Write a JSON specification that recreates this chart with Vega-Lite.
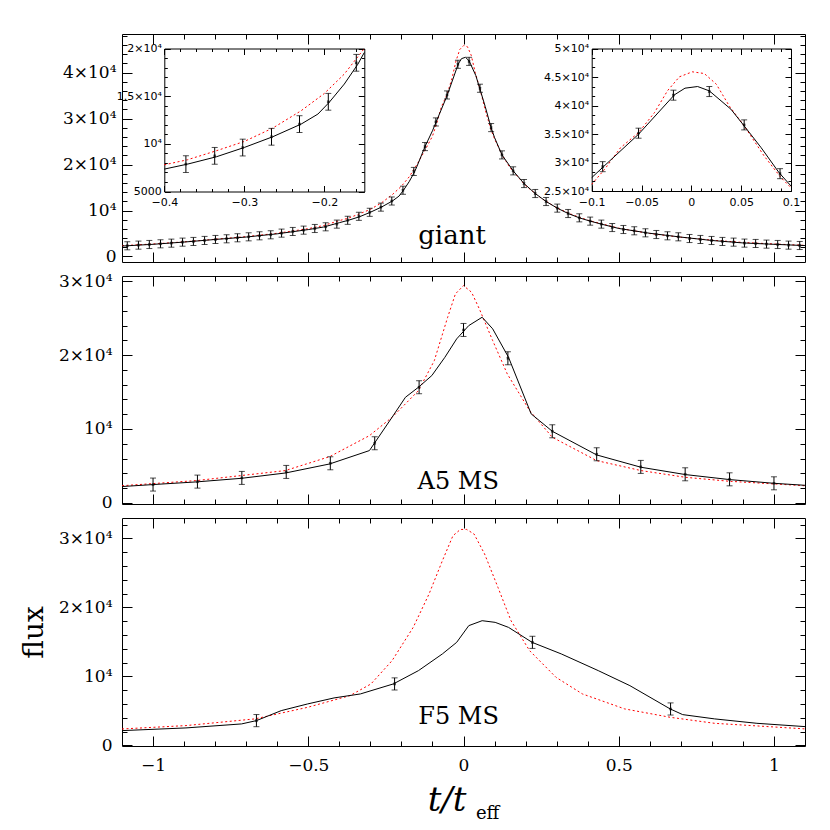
{
"$schema": "https://vega.github.io/schema/vega-lite/v6.json",
"background": "white",
"padding": {"left": 19, "top": 33, "right": 10, "bottom": 4},
"spacing": 14,
"bounds": "flush",
"datasets": {
"gpts": [
{"x":-1.083,"y":2330,"lo":1450,"hi":3210},{"x":-1.047,"y":2470,"lo":1590,"hi":3350},{"x":-1.012,"y":2610,"lo":1730,"hi":3490},{"x":-0.976,"y":2760,"lo":1880,"hi":3640},{"x":-0.941,"y":2900,"lo":2020,"hi":3780},{"x":-0.905,"y":3120,"lo":2240,"hi":4000},{"x":-0.870,"y":3270,"lo":2390,"hi":4150},{"x":-0.834,"y":3490,"lo":2610,"hi":4370},{"x":-0.799,"y":3700,"lo":2820,"hi":4580},{"x":-0.763,"y":3850,"lo":2970,"hi":4730},{"x":-0.728,"y":4070,"lo":3190,"hi":4950},{"x":-0.692,"y":4280,"lo":3400,"hi":5160},{"x":-0.657,"y":4500,"lo":3620,"hi":5380},{"x":-0.621,"y":4720,"lo":3840,"hi":5600},{"x":-0.586,"y":5080,"lo":4200,"hi":5960},{"x":-0.550,"y":5440,"lo":4560,"hi":6320},{"x":-0.515,"y":5730,"lo":4850,"hi":6610},{"x":-0.479,"y":6090,"lo":5210,"hi":6970},{"x":-0.444,"y":6460,"lo":5580,"hi":7340},{"x":-0.408,"y":7040,"lo":6160,"hi":7920},{"x":-0.373,"y":7870,"lo":6990,"hi":8750},{"x":-0.337,"y":8740,"lo":7860,"hi":9620},{"x":-0.302,"y":9610,"lo":8730,"hi":10490},{"x":-0.266,"y":10740,"lo":9860,"hi":11620},{"x":-0.231,"y":12070,"lo":11190,"hi":12950},{"x":-0.195,"y":14410,"lo":13530,"hi":15290},{"x":-0.160,"y":18500,"lo":17620,"hi":19380},{"x":-0.124,"y":23910,"lo":23030,"hi":24790},{"x":-0.089,"y":29270,"lo":28390,"hi":30150},{"x":-0.053,"y":35140,"lo":34260,"hi":36020},{"x":-0.018,"y":41810,"lo":40930,"hi":42690},
{"x":0.018,"y":42450,"lo":41570,"hi":43330},{"x":0.053,"y":36600,"lo":35720,"hi":37480},{"x":0.089,"y":28040,"lo":27160,"hi":28920},{"x":0.124,"y":22100,"lo":21220,"hi":22980},{"x":0.160,"y":18630,"lo":17750,"hi":19510},{"x":0.195,"y":15870,"lo":14990,"hi":16750},{"x":0.231,"y":13700,"lo":12820,"hi":14580},{"x":0.266,"y":11960,"lo":11080,"hi":12840},{"x":0.302,"y":10520,"lo":9640,"hi":11400},{"x":0.337,"y":9350,"lo":8470,"hi":10230},{"x":0.373,"y":8410,"lo":7530,"hi":9290},{"x":0.408,"y":7690,"lo":6810,"hi":8570},{"x":0.444,"y":7040,"lo":6160,"hi":7920},{"x":0.479,"y":6300,"lo":5420,"hi":7180},{"x":0.515,"y":5870,"lo":4990,"hi":6750},{"x":0.550,"y":5590,"lo":4710,"hi":6470},{"x":0.586,"y":5150,"lo":4270,"hi":6030},{"x":0.621,"y":4780,"lo":3900,"hi":5660},{"x":0.657,"y":4500,"lo":3620,"hi":5380},{"x":0.692,"y":4280,"lo":3400,"hi":5160},{"x":0.728,"y":3910,"lo":3030,"hi":4790},{"x":0.763,"y":3700,"lo":2820,"hi":4580},{"x":0.799,"y":3480,"lo":2600,"hi":4360},{"x":0.834,"y":3270,"lo":2390,"hi":4150},{"x":0.870,"y":3120,"lo":2240,"hi":4000},{"x":0.905,"y":2910,"lo":2030,"hi":3790},{"x":0.941,"y":2830,"lo":1950,"hi":3710},{"x":0.976,"y":2690,"lo":1810,"hi":3570},{"x":1.012,"y":2610,"lo":1730,"hi":3490},{"x":1.047,"y":2470,"lo":1590,"hi":3350},{"x":1.083,"y":2390,"lo":1510,"hi":3270}
],
"gblack": [
{"x":-1.1,"y":2270},{"x":-1.0,"y":2650},{"x":-0.9,"y":3140},{"x":-0.8,"y":3700},{"x":-0.7,"y":4230},{"x":-0.6,"y":4930},{"x":-0.5,"y":5850},{"x":-0.45,"y":6420},{"x":-0.4,"y":7350},{"x":-0.371,"y":7870},{"x":-0.335,"y":8640},{"x":-0.3,"y":9620},{"x":-0.2645,"y":10740},{"x":-0.229,"y":12070},{"x":-0.208,"y":13120},{"x":-0.194,"y":14340},{"x":-0.175,"y":16270},{"x":-0.158,"y":18360},{"x":-0.15,"y":19580},{"x":-0.124,"y":23910},{"x":-0.1,"y":27340},{"x":-0.088,"y":29300},{"x":-0.053,"y":34960},{"x":-0.017,"y":41870},{"x":-0.0064,"y":43040},{"x":0.0063,"y":43330},{"x":0.018,"y":42570},{"x":0.0397,"y":39350},{"x":0.053,"y":36420},{"x":0.07,"y":32610},{"x":0.088,"y":28220},{"x":0.1,"y":25880},{"x":0.124,"y":22100},{"x":0.16,"y":18630},{"x":0.195,"y":15870},{"x":0.231,"y":13700},{"x":0.266,"y":11960},{"x":0.302,"y":10520},{"x":0.337,"y":9350},{"x":0.373,"y":8410},{"x":0.408,"y":7690},{"x":0.444,"y":7040},{"x":0.5,"y":6100},{"x":0.6,"y":5050},{"x":0.7,"y":4220},{"x":0.8,"y":3480},{"x":0.9,"y":2950},{"x":1.0,"y":2650},{"x":1.1,"y":2370}
],
"gred": [
{"x":-1.1,"y":2350},{"x":-1.0,"y":2720},{"x":-0.9,"y":3180},{"x":-0.8,"y":3750},{"x":-0.7,"y":4320},{"x":-0.6,"y":5050},{"x":-0.5,"y":6050},{"x":-0.45,"y":6750},{"x":-0.4,"y":7800},{"x":-0.371,"y":8330},{"x":-0.335,"y":9270},{"x":-0.3,"y":10250},{"x":-0.2645,"y":11650},{"x":-0.229,"y":13470},{"x":-0.2,"y":15280},{"x":-0.175,"y":17320},{"x":-0.15,"y":20000},{"x":-0.125,"y":23000},{"x":-0.1,"y":26170},{"x":-0.087,"y":28810},{"x":-0.071,"y":32610},{"x":-0.053,"y":35240},{"x":-0.037,"y":38760},{"x":-0.024,"y":42570},{"x":-0.012,"y":45030},{"x":0.001,"y":45910},{"x":0.013,"y":45610},{"x":0.025,"y":43750},{"x":0.038,"y":39930},{"x":0.053,"y":36420},{"x":0.073,"y":31150},{"x":0.09,"y":27340},{"x":0.1,"y":25580},{"x":0.125,"y":22000},{"x":0.15,"y":19300},{"x":0.2,"y":15400},{"x":0.25,"y":12700},{"x":0.3,"y":10600},{"x":0.35,"y":9100},{"x":0.4,"y":7900},{"x":0.5,"y":6150},{"x":0.6,"y":5000},{"x":0.7,"y":4200},{"x":0.8,"y":3550},{"x":0.9,"y":3050},{"x":1.0,"y":2720},{"x":1.1,"y":2420}
],
"apts": [
{"x":-1.0,"y":2480,"lo":1600,"hi":3360},{"x":-0.857,"y":2880,"lo":2000,"hi":3760},{"x":-0.714,"y":3380,"lo":2500,"hi":4260},{"x":-0.571,"y":4190,"lo":3310,"hi":5070},{"x":-0.429,"y":5360,"lo":4480,"hi":6240},{"x":-0.286,"y":8070,"lo":7190,"hi":8950},{"x":-0.143,"y":15650,"lo":14770,"hi":16530},{"x":0.0,"y":23400,"lo":22520,"hi":24280},{"x":0.143,"y":19570,"lo":18690,"hi":20450},{"x":0.286,"y":9690,"lo":8810,"hi":10570},{"x":0.429,"y":6580,"lo":5700,"hi":7460},{"x":0.571,"y":4870,"lo":3990,"hi":5750},{"x":0.714,"y":3870,"lo":2990,"hi":4750},{"x":0.857,"y":3190,"lo":2310,"hi":4070},{"x":1.0,"y":2650,"lo":1770,"hi":3530}
],
"ablack": [
{"x":-1.1,"y":2210},{"x":-1.0,"y":2480},{"x":-0.86,"y":2840},{"x":-0.714,"y":3330},{"x":-0.573,"y":4050},{"x":-0.431,"y":5270},{"x":-0.303,"y":7080},{"x":-0.23,"y":11590},{"x":-0.187,"y":14290},{"x":-0.145,"y":15650},{"x":-0.102,"y":17230},{"x":-0.06,"y":19700},{"x":-0.022,"y":22190},{"x":0.017,"y":23990},{"x":0.06,"y":25120},{"x":0.094,"y":23550},{"x":0.145,"y":19700},{"x":0.218,"y":12040},{"x":0.286,"y":9690},{"x":0.429,"y":6490},{"x":0.572,"y":4820},{"x":0.715,"y":3830},{"x":0.858,"y":3150},{"x":1.0,"y":2650},{"x":1.1,"y":2380}
],
"ared": [
{"x":-1.1,"y":2320},{"x":-0.86,"y":3020},{"x":-0.574,"y":4370},{"x":-0.431,"y":6260},{"x":-0.303,"y":9100},{"x":-0.23,"y":11590},{"x":-0.187,"y":13400},{"x":-0.145,"y":15200},{"x":-0.094,"y":19250},{"x":-0.051,"y":25120},{"x":-0.026,"y":28280},{"x":0.0,"y":29400},{"x":0.026,"y":28500},{"x":0.051,"y":26250},{"x":0.094,"y":21960},{"x":0.141,"y":17450},{"x":0.213,"y":12490},{"x":0.286,"y":8880},{"x":0.429,"y":5720},{"x":0.572,"y":4370},{"x":0.715,"y":3460},{"x":0.858,"y":2920},{"x":1.1,"y":2320}
],
"fpts": [
{"x":-0.667,"y":3580,"lo":2700,"hi":4460},{"x":-0.222,"y":8900,"lo":8020,"hi":9780},{"x":0.222,"y":14930,"lo":14050,"hi":15810},{"x":0.667,"y":5270,"lo":4390,"hi":6150}
],
"fblack": [
{"x":-1.1,"y":2130},{"x":-0.894,"y":2520},{"x":-0.715,"y":3100},{"x":-0.667,"y":3580},{"x":-0.587,"y":5030},{"x":-0.502,"y":6000},{"x":-0.417,"y":6870},{"x":-0.332,"y":7450},{"x":-0.226,"y":8900},{"x":-0.145,"y":10830},{"x":-0.068,"y":13250},{"x":-0.022,"y":14930},{"x":0.017,"y":17350},{"x":0.06,"y":18070},{"x":0.102,"y":17830},{"x":0.145,"y":17100},{"x":0.221,"y":14930},{"x":0.315,"y":13250},{"x":0.434,"y":10830},{"x":0.536,"y":8650},{"x":0.666,"y":5270},{"x":0.706,"y":4450},{"x":0.809,"y":3830},{"x":0.945,"y":3190},{"x":1.1,"y":2710}
],
"fred": [
{"x":-1.1,"y":2370},{"x":-0.894,"y":2860},{"x":-0.672,"y":3830},{"x":-0.502,"y":5510},{"x":-0.366,"y":7200},{"x":-0.298,"y":8900},{"x":-0.23,"y":12280},{"x":-0.162,"y":17100},{"x":-0.111,"y":21940},{"x":-0.068,"y":26770},{"x":-0.034,"y":30390},{"x":-0.01,"y":31300},{"x":0.01,"y":31300},{"x":0.034,"y":30640},{"x":0.068,"y":27740},{"x":0.111,"y":22900},{"x":0.153,"y":18070},{"x":0.213,"y":13720},{"x":0.298,"y":9860},{"x":0.383,"y":7450},{"x":0.519,"y":5280},{"x":0.666,"y":4060},{"x":0.809,"y":3190},{"x":1.1,"y":2380}
]
},
"vconcat": [
{
"width": 683, "height": 228,
"resolve": {"scale": {"x": "independent", "y": "independent"}, "axis": {"x": "independent", "y": "independent"}},
"layer": [
{"data": {"name": "gred"}, "mark": {"type": "line", "color": "#ff0000", "strokeWidth": 1, "strokeDash": [2, 2.5]},
 "encoding": {
 "x": {"field": "x", "type": "quantitative", "scale": {"domain": [-1.1, 1.1], "nice": false, "zero": false}, "axis": {"orient": "bottom", "values": [-1, -0.5, 0, 0.5, 1], "tickSize": -10, "labels": false, "domain": false, "title": null}},
 "y": {"field": "y", "type": "quantitative", "scale": {"domain": [-1200, 48400], "nice": false, "zero": false}, "axis": {"orient": "left", "values": [0, 10000, 20000, 30000, 40000], "tickSize": -10, "labels": false, "domain": false, "title": null}}}},
{"data": {"name": "gblack"}, "mark": {"type": "line", "color": "black", "strokeWidth": 1},
 "encoding": {
 "x": {"field": "x", "type": "quantitative", "scale": {"domain": [-1.1, 1.1], "nice": false, "zero": false}, "axis": {"orient": "top", "values": [-1, -0.5, 0, 0.5, 1], "tickSize": -10, "labels": false, "domain": false, "title": null}},
 "y": {"field": "y", "type": "quantitative", "scale": {"domain": [-1200, 48400], "nice": false, "zero": false}, "axis": {"orient": "right", "values": [0, 10000, 20000, 30000, 40000], "tickSize": -10, "labels": false, "domain": false, "title": null}}}},
{"data": {"name": "gpts"}, "mark": {"type": "rule", "color": "black", "strokeWidth": 1},
 "encoding": {
 "x": {"field": "x", "type": "quantitative", "scale": {"domain": [-1.1, 1.1], "nice": false, "zero": false}, "axis": {"orient": "bottom", "values": [-1, -0.9, -0.8, -0.7, -0.6, -0.5, -0.4, -0.3, -0.2, -0.1, 0, 0.1, 0.2, 0.3, 0.4, 0.5, 0.6, 0.7, 0.8, 0.9, 1], "tickSize": -5, "labels": false, "domain": false, "title": null}},
 "y": {"field": "lo", "type": "quantitative", "scale": {"domain": [-1200, 48400], "nice": false, "zero": false}, "axis": {"orient": "left", "values": [0, 2000, 4000, 6000, 8000, 10000, 12000, 14000, 16000, 18000, 20000, 22000, 24000, 26000, 28000, 30000, 32000, 34000, 36000, 38000, 40000, 42000, 44000, 46000, 48000], "tickSize": -5, "labels": false, "domain": false, "title": null}},
 "y2": {"field": "hi"}}},
{"data": {"name": "gpts"}, "mark": {"type": "tick", "orient": "horizontal", "size": 6, "thickness": 1, "color": "black"},
 "encoding": {
 "x": {"field": "x", "type": "quantitative", "scale": {"domain": [-1.1, 1.1], "nice": false, "zero": false}, "axis": {"orient": "top", "values": [-1, -0.9, -0.8, -0.7, -0.6, -0.5, -0.4, -0.3, -0.2, -0.1, 0, 0.1, 0.2, 0.3, 0.4, 0.5, 0.6, 0.7, 0.8, 0.9, 1], "tickSize": -5, "labels": false, "domain": false, "title": null}},
 "y": {"field": "lo", "type": "quantitative", "scale": {"domain": [-1200, 48400], "nice": false, "zero": false}, "axis": {"orient": "right", "values": [0, 2000, 4000, 6000, 8000, 10000, 12000, 14000, 16000, 18000, 20000, 22000, 24000, 26000, 28000, 30000, 32000, 34000, 36000, 38000, 40000, 42000, 44000, 46000, 48000], "tickSize": -5, "labels": false, "domain": false, "title": null}}}},
{"data": {"name": "gpts"}, "mark": {"type": "tick", "orient": "horizontal", "size": 6, "thickness": 1, "color": "black"},
 "encoding": {
 "x": {"field": "x", "type": "quantitative", "scale": {"domain": [-1.1, 1.1], "nice": false, "zero": false}, "axis": null},
 "y": {"field": "hi", "type": "quantitative", "scale": {"domain": [-1200, 48400], "nice": false, "zero": false}, "axis": null}}},
{"data": {"name": "gpts"}, "mark": {"type": "point", "shape": "cross", "size": 10, "filled": true, "color": "black", "angle": 45},
 "encoding": {
 "x": {"field": "x", "type": "quantitative", "scale": {"domain": [-1.1, 1.1], "nice": false, "zero": false}, "axis": null},
 "y": {"field": "y", "type": "quantitative", "scale": {"domain": [-1200, 48400], "nice": false, "zero": false}, "axis": {"orient": "left", "values": [0, 10000, 20000, 30000, 40000], "ticks": false, "domain": false, "labelPadding": 6, "title": null, "labelExpr": "datum.value == 0 ? '0' : datum.value < 10000 ? format(datum.value, 'd') : datum.value == 10000 ? '10⁴' : format(datum.value / 10000, '~g') + '×10⁴'"}}}},
{"data": {"values": [{"label": "giant", "x": -0.037, "y": 2700}]}, "mark": {"type": "text", "font": "DejaVu Serif", "fontSize": 26, "align": "center", "baseline": "alphabetic", "color": "black"},
 "encoding": {
 "x": {"field": "x", "type": "quantitative", "scale": {"domain": [-1.1, 1.1], "nice": false, "zero": false}, "axis": null},
 "y": {"field": "y", "type": "quantitative", "scale": {"domain": [-1200, 48400], "nice": false, "zero": false}, "axis": null},
 "text": {"field": "label"}}},

{"data": {"name": "gred"}, "transform": [{"filter": {"field": "x", "range": [-0.4, -0.15]}}], "mark": {"type": "line", "color": "#ff0000", "strokeWidth": 1, "strokeDash": [2, 2.5]},
 "encoding": {
 "x": {"field": "x", "type": "quantitative", "scale": {"domain": [-0.4, -0.15], "range": [42.3, 242.3], "nice": false, "zero": false}, "axis": {"orient": "bottom", "offset": -70.5, "values": [-0.4, -0.3, -0.2], "tickSize": -6, "labels": false, "domain": true, "title": null}},
 "y": {"field": "y", "type": "quantitative", "scale": {"domain": [5000, 20000], "range": [157.5, 14.5], "nice": false, "zero": false}, "axis": {"orient": "left", "offset": -42.3, "values": [5000, 10000, 15000, 20000], "tickSize": -6, "labels": false, "domain": true, "title": null}}}},
{"data": {"name": "gblack"}, "transform": [{"filter": {"field": "x", "range": [-0.4, -0.15]}}], "mark": {"type": "line", "color": "black", "strokeWidth": 1},
 "encoding": {
 "x": {"field": "x", "type": "quantitative", "scale": {"domain": [-0.4, -0.15], "range": [42.3, 242.3], "nice": false, "zero": false}, "axis": {"orient": "top", "offset": -14.5, "values": [-0.4, -0.3, -0.2], "tickSize": -6, "labels": false, "domain": true, "title": null}},
 "y": {"field": "y", "type": "quantitative", "scale": {"domain": [5000, 20000], "range": [157.5, 14.5], "nice": false, "zero": false}, "axis": {"orient": "right", "offset": -440.7, "values": [5000, 10000, 15000, 20000], "tickSize": -6, "labels": false, "domain": true, "title": null}}}},
{"data": {"name": "gpts"}, "transform": [{"filter": {"field": "x", "range": [-0.4, -0.15]}}], "mark": {"type": "rule", "color": "black", "strokeWidth": 1},
 "encoding": {
 "x": {"field": "x", "type": "quantitative", "scale": {"domain": [-0.4, -0.15], "range": [42.3, 242.3], "nice": false, "zero": false}, "axis": {"orient": "bottom", "offset": -70.5, "values": [-0.38, -0.36, -0.34, -0.32, -0.28, -0.26, -0.24, -0.22, -0.18, -0.16], "tickSize": -3, "labels": false, "domain": false, "title": null}},
 "y": {"field": "lo", "type": "quantitative", "scale": {"domain": [5000, 20000], "range": [157.5, 14.5], "nice": false, "zero": false}, "axis": {"orient": "left", "offset": -42.3, "values": [6000, 7000, 8000, 9000, 11000, 12000, 13000, 14000, 16000, 17000, 18000, 19000], "tickSize": -3, "labels": false, "domain": false, "title": null}},
 "y2": {"field": "hi"}}},
{"data": {"name": "gpts"}, "transform": [{"filter": {"field": "x", "range": [-0.4, -0.15]}}], "mark": {"type": "tick", "orient": "horizontal", "size": 6, "thickness": 1, "color": "black"},
 "encoding": {
 "x": {"field": "x", "type": "quantitative", "scale": {"domain": [-0.4, -0.15], "range": [42.3, 242.3], "nice": false, "zero": false}, "axis": {"orient": "top", "offset": -14.5, "values": [-0.38, -0.36, -0.34, -0.32, -0.28, -0.26, -0.24, -0.22, -0.18, -0.16], "tickSize": -3, "labels": false, "domain": false, "title": null}},
 "y": {"field": "lo", "type": "quantitative", "scale": {"domain": [5000, 20000], "range": [157.5, 14.5], "nice": false, "zero": false}, "axis": {"orient": "right", "offset": -440.7, "values": [6000, 7000, 8000, 9000, 11000, 12000, 13000, 14000, 16000, 17000, 18000, 19000], "tickSize": -3, "labels": false, "domain": false, "title": null}}}},
{"data": {"name": "gpts"}, "transform": [{"filter": {"field": "x", "range": [-0.4, -0.15]}}], "mark": {"type": "tick", "orient": "horizontal", "size": 6, "thickness": 1, "color": "black"},
 "encoding": {
 "x": {"field": "x", "type": "quantitative", "scale": {"domain": [-0.4, -0.15], "range": [42.3, 242.3], "nice": false, "zero": false}, "axis": null},
 "y": {"field": "hi", "type": "quantitative", "scale": {"domain": [5000, 20000], "range": [157.5, 14.5], "nice": false, "zero": false}, "axis": null}}},
{"data": {"name": "gpts"}, "transform": [{"filter": {"field": "x", "range": [-0.4, -0.15]}}], "mark": {"type": "point", "shape": "cross", "size": 10, "filled": true, "color": "black", "angle": 45},
 "encoding": {
 "x": {"field": "x", "type": "quantitative", "scale": {"domain": [-0.4, -0.15], "range": [42.3, 242.3], "nice": false, "zero": false}, "axis": {"orient": "bottom", "offset": -70.5, "values": [-0.4, -0.3, -0.2], "ticks": false, "domain": false, "labelPadding": 5, "labelFont": "DejaVu Sans", "labelFontSize": 11, "format": "~g", "title": null}},
 "y": {"field": "y", "type": "quantitative", "scale": {"domain": [5000, 20000], "range": [157.5, 14.5], "nice": false, "zero": false}, "axis": {"orient": "left", "offset": -42.3, "values": [5000, 10000, 15000, 20000], "ticks": false, "domain": false, "labelPadding": 3, "labelFont": "DejaVu Sans", "labelFontSize": 11, "title": null, "labelExpr": "datum.value == 0 ? '0' : datum.value < 10000 ? format(datum.value, 'd') : datum.value == 10000 ? '10⁴' : format(datum.value / 10000, '~g') + '×10⁴'"}}}},

{"data": {"name": "gred"}, "transform": [{"filter": {"field": "x", "range": [-0.1, 0.1]}}], "mark": {"type": "line", "color": "#ff0000", "strokeWidth": 1, "strokeDash": [2, 2.5]},
 "encoding": {
 "x": {"field": "x", "type": "quantitative", "scale": {"domain": [-0.1, 0.1], "range": [469.7, 669], "nice": false, "zero": false}, "axis": {"orient": "bottom", "offset": -71, "values": [-0.1, -0.05, 0, 0.05, 0.1], "tickSize": -6, "labels": false, "domain": true, "title": null}},
 "y": {"field": "y", "type": "quantitative", "scale": {"domain": [25000, 50000], "range": [157, 14.5], "nice": false, "zero": false}, "axis": {"orient": "left", "offset": -469.7, "values": [25000, 30000, 35000, 40000, 45000, 50000], "tickSize": -6, "labels": false, "domain": true, "title": null}}}},
{"data": {"name": "gblack"}, "transform": [{"filter": {"field": "x", "range": [-0.1, 0.1]}}], "mark": {"type": "line", "color": "black", "strokeWidth": 1},
 "encoding": {
 "x": {"field": "x", "type": "quantitative", "scale": {"domain": [-0.1, 0.1], "range": [469.7, 669], "nice": false, "zero": false}, "axis": {"orient": "top", "offset": -14.5, "values": [-0.1, -0.05, 0, 0.05, 0.1], "tickSize": -6, "labels": false, "domain": true, "title": null}},
 "y": {"field": "y", "type": "quantitative", "scale": {"domain": [25000, 50000], "range": [157, 14.5], "nice": false, "zero": false}, "axis": {"orient": "right", "offset": -14, "values": [25000, 30000, 35000, 40000, 45000, 50000], "tickSize": -6, "labels": false, "domain": true, "title": null}}}},
{"data": {"name": "gpts"}, "transform": [{"filter": {"field": "x", "range": [-0.1, 0.1]}}], "mark": {"type": "rule", "color": "black", "strokeWidth": 1},
 "encoding": {
 "x": {"field": "x", "type": "quantitative", "scale": {"domain": [-0.1, 0.1], "range": [469.7, 669], "nice": false, "zero": false}, "axis": {"orient": "bottom", "offset": -71, "values": [-0.09, -0.08, -0.07, -0.06, -0.04, -0.03, -0.02, -0.01, 0.01, 0.02, 0.03, 0.04, 0.06, 0.07, 0.08, 0.09], "tickSize": -3, "labels": false, "domain": false, "title": null}},
 "y": {"field": "lo", "type": "quantitative", "scale": {"domain": [25000, 50000], "range": [157, 14.5], "nice": false, "zero": false}, "axis": {"orient": "left", "offset": -469.7, "values": [26667, 28333, 31667, 33333, 36667, 38333, 41667, 43333, 46667, 48333], "tickSize": -3, "labels": false, "domain": false, "title": null}},
 "y2": {"field": "hi"}}},
{"data": {"name": "gpts"}, "transform": [{"filter": {"field": "x", "range": [-0.1, 0.1]}}], "mark": {"type": "tick", "orient": "horizontal", "size": 6, "thickness": 1, "color": "black"},
 "encoding": {
 "x": {"field": "x", "type": "quantitative", "scale": {"domain": [-0.1, 0.1], "range": [469.7, 669], "nice": false, "zero": false}, "axis": {"orient": "top", "offset": -14.5, "values": [-0.09, -0.08, -0.07, -0.06, -0.04, -0.03, -0.02, -0.01, 0.01, 0.02, 0.03, 0.04, 0.06, 0.07, 0.08, 0.09], "tickSize": -3, "labels": false, "domain": false, "title": null}},
 "y": {"field": "lo", "type": "quantitative", "scale": {"domain": [25000, 50000], "range": [157, 14.5], "nice": false, "zero": false}, "axis": {"orient": "right", "offset": -14, "values": [26667, 28333, 31667, 33333, 36667, 38333, 41667, 43333, 46667, 48333], "tickSize": -3, "labels": false, "domain": false, "title": null}}}},
{"data": {"name": "gpts"}, "transform": [{"filter": {"field": "x", "range": [-0.1, 0.1]}}], "mark": {"type": "tick", "orient": "horizontal", "size": 6, "thickness": 1, "color": "black"},
 "encoding": {
 "x": {"field": "x", "type": "quantitative", "scale": {"domain": [-0.1, 0.1], "range": [469.7, 669], "nice": false, "zero": false}, "axis": null},
 "y": {"field": "hi", "type": "quantitative", "scale": {"domain": [25000, 50000], "range": [157, 14.5], "nice": false, "zero": false}, "axis": null}}},
{"data": {"name": "gpts"}, "transform": [{"filter": {"field": "x", "range": [-0.1, 0.1]}}], "mark": {"type": "point", "shape": "cross", "size": 10, "filled": true, "color": "black", "angle": 45},
 "encoding": {
 "x": {"field": "x", "type": "quantitative", "scale": {"domain": [-0.1, 0.1], "range": [469.7, 669], "nice": false, "zero": false}, "axis": {"orient": "bottom", "offset": -71, "values": [-0.1, -0.05, 0, 0.05, 0.1], "ticks": false, "domain": false, "labelPadding": 5, "labelFont": "DejaVu Sans", "labelFontSize": 11, "format": "~g", "title": null}},
 "y": {"field": "y", "type": "quantitative", "scale": {"domain": [25000, 50000], "range": [157, 14.5], "nice": false, "zero": false}, "axis": {"orient": "left", "offset": -469.7, "values": [25000, 30000, 35000, 40000, 45000, 50000], "ticks": false, "domain": false, "labelPadding": 3, "labelFont": "DejaVu Sans", "labelFontSize": 11, "title": null, "labelExpr": "datum.value == 0 ? '0' : datum.value < 10000 ? format(datum.value, 'd') : datum.value == 10000 ? '10⁴' : format(datum.value / 10000, '~g') + '×10⁴'"}}}}
]
},
{
"width": 683, "height": 228,
"resolve": {"scale": {"x": "independent", "y": "independent"}, "axis": {"x": "independent", "y": "independent"}},
"layer": [
{"data": {"name": "ared"}, "mark": {"type": "line", "color": "#ff0000", "strokeWidth": 1, "strokeDash": [2, 2.5]},
 "encoding": {
 "x": {"field": "x", "type": "quantitative", "scale": {"domain": [-1.1, 1.1], "nice": false, "zero": false}, "axis": {"orient": "bottom", "values": [-1, -0.5, 0, 0.5, 1], "tickSize": -10, "labels": false, "domain": false, "title": null}},
 "y": {"field": "y", "type": "quantitative", "scale": {"domain": [-150, 30700], "nice": false, "zero": false}, "axis": {"orient": "left", "values": [0, 10000, 20000, 30000], "tickSize": -10, "labels": false, "domain": false, "title": null}}}},
{"data": {"name": "ablack"}, "mark": {"type": "line", "color": "black", "strokeWidth": 1},
 "encoding": {
 "x": {"field": "x", "type": "quantitative", "scale": {"domain": [-1.1, 1.1], "nice": false, "zero": false}, "axis": {"orient": "top", "values": [-1, -0.5, 0, 0.5, 1], "tickSize": -10, "labels": false, "domain": false, "title": null}},
 "y": {"field": "y", "type": "quantitative", "scale": {"domain": [-150, 30700], "nice": false, "zero": false}, "axis": {"orient": "right", "values": [0, 10000, 20000, 30000], "tickSize": -10, "labels": false, "domain": false, "title": null}}}},
{"data": {"name": "apts"}, "mark": {"type": "rule", "color": "black", "strokeWidth": 1},
 "encoding": {
 "x": {"field": "x", "type": "quantitative", "scale": {"domain": [-1.1, 1.1], "nice": false, "zero": false}, "axis": {"orient": "bottom", "values": [-1, -0.9, -0.8, -0.7, -0.6, -0.5, -0.4, -0.3, -0.2, -0.1, 0, 0.1, 0.2, 0.3, 0.4, 0.5, 0.6, 0.7, 0.8, 0.9, 1], "tickSize": -5, "labels": false, "domain": false, "title": null}},
 "y": {"field": "lo", "type": "quantitative", "scale": {"domain": [-150, 30700], "nice": false, "zero": false}, "axis": {"orient": "left", "values": [0, 2000, 4000, 6000, 8000, 10000, 12000, 14000, 16000, 18000, 20000, 22000, 24000, 26000, 28000, 30000], "tickSize": -5, "labels": false, "domain": false, "title": null}},
 "y2": {"field": "hi"}}},
{"data": {"name": "apts"}, "mark": {"type": "tick", "orient": "horizontal", "size": 6, "thickness": 1, "color": "black"},
 "encoding": {
 "x": {"field": "x", "type": "quantitative", "scale": {"domain": [-1.1, 1.1], "nice": false, "zero": false}, "axis": {"orient": "top", "values": [-1, -0.9, -0.8, -0.7, -0.6, -0.5, -0.4, -0.3, -0.2, -0.1, 0, 0.1, 0.2, 0.3, 0.4, 0.5, 0.6, 0.7, 0.8, 0.9, 1], "tickSize": -5, "labels": false, "domain": false, "title": null}},
 "y": {"field": "lo", "type": "quantitative", "scale": {"domain": [-150, 30700], "nice": false, "zero": false}, "axis": {"orient": "right", "values": [0, 2000, 4000, 6000, 8000, 10000, 12000, 14000, 16000, 18000, 20000, 22000, 24000, 26000, 28000, 30000], "tickSize": -5, "labels": false, "domain": false, "title": null}}}},
{"data": {"name": "apts"}, "mark": {"type": "tick", "orient": "horizontal", "size": 6, "thickness": 1, "color": "black"},
 "encoding": {
 "x": {"field": "x", "type": "quantitative", "scale": {"domain": [-1.1, 1.1], "nice": false, "zero": false}, "axis": null},
 "y": {"field": "hi", "type": "quantitative", "scale": {"domain": [-150, 30700], "nice": false, "zero": false}, "axis": null}}},
{"data": {"name": "apts"}, "mark": {"type": "point", "shape": "cross", "size": 10, "filled": true, "color": "black", "angle": 45},
 "encoding": {
 "x": {"field": "x", "type": "quantitative", "scale": {"domain": [-1.1, 1.1], "nice": false, "zero": false}, "axis": null},
 "y": {"field": "y", "type": "quantitative", "scale": {"domain": [-150, 30700], "nice": false, "zero": false}, "axis": {"orient": "left", "values": [0, 10000, 20000, 30000], "ticks": false, "domain": false, "labelPadding": 10, "title": null, "labelExpr": "datum.value == 0 ? '0' : datum.value < 10000 ? format(datum.value, 'd') : datum.value == 10000 ? '10⁴' : format(datum.value / 10000, '~g') + '×10⁴'"}}}},
{"data": {"values": [{"label": "A5 MS", "x": -0.017, "y": 1890}]}, "mark": {"type": "text", "font": "DejaVu Serif", "fontSize": 24, "align": "center", "baseline": "alphabetic", "color": "black"},
 "encoding": {
 "x": {"field": "x", "type": "quantitative", "scale": {"domain": [-1.1, 1.1], "nice": false, "zero": false}, "axis": null},
 "y": {"field": "y", "type": "quantitative", "scale": {"domain": [-150, 30700], "nice": false, "zero": false}, "axis": null},
 "text": {"field": "label"}}}
]
},
{
"width": 683, "height": 228,
"resolve": {"scale": {"x": "independent", "y": "independent"}, "axis": {"x": "independent", "y": "independent"}},
"layer": [
{"data": {"name": "fred"}, "mark": {"type": "line", "color": "#ff0000", "strokeWidth": 1, "strokeDash": [2, 2.5]},
 "encoding": {
 "x": {"field": "x", "type": "quantitative", "scale": {"domain": [-1.1, 1.1], "nice": false, "zero": false}, "axis": {"orient": "bottom", "values": [-1, -0.5, 0, 0.5, 1], "tickSize": -10, "labels": false, "domain": false, "title": null}},
 "y": {"field": "y", "type": "quantitative", "scale": {"domain": [-100, 32960], "nice": false, "zero": false}, "axis": {"orient": "left", "values": [0, 10000, 20000, 30000], "tickSize": -10, "labels": false, "domain": false, "title": null}}}},
{"data": {"name": "fblack"}, "mark": {"type": "line", "color": "black", "strokeWidth": 1},
 "encoding": {
 "x": {"field": "x", "type": "quantitative", "scale": {"domain": [-1.1, 1.1], "nice": false, "zero": false}, "axis": {"orient": "top", "values": [-1, -0.5, 0, 0.5, 1], "tickSize": -10, "labels": false, "domain": false, "title": null}},
 "y": {"field": "y", "type": "quantitative", "scale": {"domain": [-100, 32960], "nice": false, "zero": false}, "axis": {"orient": "right", "values": [0, 10000, 20000, 30000], "tickSize": -10, "labels": false, "domain": false, "title": null}}}},
{"data": {"name": "fpts"}, "mark": {"type": "rule", "color": "black", "strokeWidth": 1},
 "encoding": {
 "x": {"field": "x", "type": "quantitative", "scale": {"domain": [-1.1, 1.1], "nice": false, "zero": false}, "axis": {"orient": "bottom", "values": [-1, -0.9, -0.8, -0.7, -0.6, -0.5, -0.4, -0.3, -0.2, -0.1, 0, 0.1, 0.2, 0.3, 0.4, 0.5, 0.6, 0.7, 0.8, 0.9, 1], "tickSize": -5, "labels": false, "domain": false, "title": null}},
 "y": {"field": "lo", "type": "quantitative", "scale": {"domain": [-100, 32960], "nice": false, "zero": false}, "axis": {"orient": "left", "values": [0, 2000, 4000, 6000, 8000, 10000, 12000, 14000, 16000, 18000, 20000, 22000, 24000, 26000, 28000, 30000, 32000], "tickSize": -5, "labels": false, "domain": false, "title": null}},
 "y2": {"field": "hi"}}},
{"data": {"name": "fpts"}, "mark": {"type": "tick", "orient": "horizontal", "size": 6, "thickness": 1, "color": "black"},
 "encoding": {
 "x": {"field": "x", "type": "quantitative", "scale": {"domain": [-1.1, 1.1], "nice": false, "zero": false}, "axis": {"orient": "top", "values": [-1, -0.9, -0.8, -0.7, -0.6, -0.5, -0.4, -0.3, -0.2, -0.1, 0, 0.1, 0.2, 0.3, 0.4, 0.5, 0.6, 0.7, 0.8, 0.9, 1], "tickSize": -5, "labels": false, "domain": false, "title": null}},
 "y": {"field": "lo", "type": "quantitative", "scale": {"domain": [-100, 32960], "nice": false, "zero": false}, "axis": {"orient": "right", "values": [0, 2000, 4000, 6000, 8000, 10000, 12000, 14000, 16000, 18000, 20000, 22000, 24000, 26000, 28000, 30000, 32000], "tickSize": -5, "labels": false, "domain": false, "title": null}}}},
{"data": {"name": "fpts"}, "mark": {"type": "tick", "orient": "horizontal", "size": 6, "thickness": 1, "color": "black"},
 "encoding": {
 "x": {"field": "x", "type": "quantitative", "scale": {"domain": [-1.1, 1.1], "nice": false, "zero": false}, "axis": null},
 "y": {"field": "hi", "type": "quantitative", "scale": {"domain": [-100, 32960], "nice": false, "zero": false}, "axis": null}}},
{"data": {"name": "fpts"}, "mark": {"type": "point", "shape": "cross", "size": 10, "filled": true, "color": "black", "angle": 45},
 "encoding": {
 "x": {"field": "x", "type": "quantitative", "scale": {"domain": [-1.1, 1.1], "nice": false, "zero": false}, "axis": {"orient": "bottom", "values": [-1, -0.5, 0, 0.5, 1], "ticks": false, "domain": false, "labelPadding": 11, "format": "~g", "title": null}},
 "y": {"field": "y", "type": "quantitative", "scale": {"domain": [-100, 32960], "nice": false, "zero": false}, "axis": {"orient": "left", "values": [0, 10000, 20000, 30000], "ticks": false, "domain": false, "labelPadding": 10, "title": "flux", "titleFontSize": 28, "titlePadding": 10, "labelExpr": "datum.value == 0 ? '0' : datum.value < 10000 ? format(datum.value, 'd') : datum.value == 10000 ? '10⁴' : format(datum.value / 10000, '~g') + '×10⁴'"}}}},
{"data": {"values": [{"label": "F5 MS", "x": -0.016, "y": 3100}]}, "mark": {"type": "text", "font": "DejaVu Serif", "fontSize": 24, "align": "center", "baseline": "alphabetic", "color": "black"},
 "encoding": {
 "x": {"field": "x", "type": "quantitative", "scale": {"domain": [-1.1, 1.1], "nice": false, "zero": false}, "axis": null},
 "y": {"field": "y", "type": "quantitative", "scale": {"domain": [-100, 32960], "nice": false, "zero": false}, "axis": null},
 "text": {"field": "label"}}},
{"data": {"values": [{"label": "t/t", "x": -0.053, "y": -9460}]}, "mark": {"type": "text", "font": "DejaVu Serif", "fontStyle": "italic", "fontSize": 34, "align": "center", "baseline": "alphabetic", "color": "black"},
 "encoding": {
 "x": {"field": "x", "type": "quantitative", "scale": {"domain": [-1.1, 1.1], "nice": false, "zero": false}, "axis": null},
 "y": {"field": "y", "type": "quantitative", "scale": {"domain": [-100, 32960], "nice": false, "zero": false}, "axis": null},
 "text": {"field": "label"}}},
{"data": {"values": [{"label": "eff", "x": 0.04, "y": -10620}]}, "mark": {"type": "text", "font": "DejaVu Serif", "fontSize": 18, "align": "left", "baseline": "alphabetic", "color": "black"},
 "encoding": {
 "x": {"field": "x", "type": "quantitative", "scale": {"domain": [-1.1, 1.1], "nice": false, "zero": false}, "axis": null},
 "y": {"field": "y", "type": "quantitative", "scale": {"domain": [-100, 32960], "nice": false, "zero": false}, "axis": null},
 "text": {"field": "label"}}}
]
}
],
"config": {
"view": {"stroke": "black", "strokeWidth": 1},
"axis": {"grid": false, "tickColor": "black", "domainColor": "black", "labelColor": "black", "labelFont": "DejaVu Serif", "labelFontSize": 17, "labelOverlap": false, "labelFlush": false, "tickWidth": 1, "domainWidth": 1, "titleFont": "DejaVu Serif", "titleFontWeight": "normal", "titleColor": "black"}
}
}
